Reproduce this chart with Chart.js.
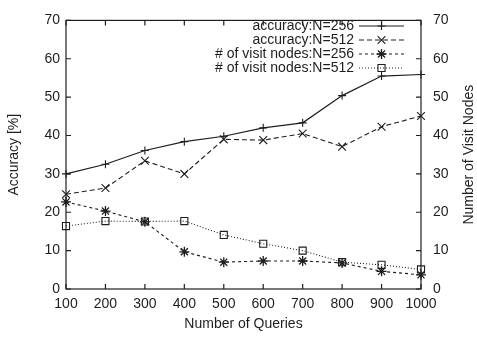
<!DOCTYPE html>
<html lang="en">
<head>
<meta charset="UTF-8">
<title>Accuracy and visit nodes</title>
<script src="https://cdn.jsdelivr.net/npm/chart.js"></script>
<style>
    html, body { margin: 0; padding: 0; background: #fff; }
    #wrap { width: 477px; height: 337px; }
</style>
</head>
<body>
<div id="wrap"><canvas id="chart" width="477" height="337"></canvas></div>
<script>
    // data
    const queries = ['100', '200', '300', '400', '500', '600', '700', '800', '900', '1000'];
    const accuracy256 = [30.0, 32.5, 36.1, 38.4, 39.8, 42.0, 43.3, 50.4, 55.5, 55.9];
    const accuracy512 = [24.7, 26.3, 33.4, 30.0, 39.0, 38.8, 40.5, 37.1, 42.3, 45.1];
    const visit256 = [22.7, 20.3, 17.5, 9.7, 7.0, 7.3, 7.3, 6.8, 4.6, 3.7];
    const visit512 = [16.4, 17.7, 17.6, 17.7, 14.1, 11.8, 10.0, 7.0, 6.3, 5.1];
    const yTicks = [0, 10, 20, 30, 40, 50, 60, 70];

    const ink = '#1e1e1e';
    const font = { family: 'Liberation Sans, Arial, sans-serif', size: 14 };

    // gnuplot style frame, inward ticks, key and right axis label (reads bottom to top)
    const gnuplotFrame = {
        id: 'gnuplotFrame',
        afterDraw(chart) {
            const ctx = chart.ctx;
            const a = chart.chartArea;
            const t = 5;
            ctx.save();
            ctx.strokeStyle = ink;
            ctx.lineWidth = 1.2;
            ctx.setLineDash([]);
            ctx.strokeRect(a.left, a.top, a.right - a.left, a.bottom - a.top);
            ctx.beginPath();
            const xs = chart.scales.x;
            xs.ticks.forEach((tk, i) => {
                const px = xs.getPixelForTick(i);
                ctx.moveTo(px, a.bottom); ctx.lineTo(px, a.bottom - t);
                ctx.moveTo(px, a.top); ctx.lineTo(px, a.top + t);
            });
            const ys = chart.scales.y, ys2 = chart.scales.y2;
            ys.ticks.forEach((tk, i) => {
                const py = ys.getPixelForTick(i);
                ctx.moveTo(a.left, py); ctx.lineTo(a.left + t, py);
            });
            ys2.ticks.forEach((tk, i) => {
                const py = ys2.getPixelForTick(i);
                ctx.moveTo(a.right, py); ctx.lineTo(a.right - t, py);
            });
            ctx.stroke();

            ctx.font = font.size + 'px ' + font.family;
            ctx.fillStyle = ink;
            ctx.textBaseline = 'middle';

            // right axis title
            ctx.save();
            ctx.translate(469, (a.top + a.bottom) / 2);
            ctx.rotate(-Math.PI / 2);
            ctx.textAlign = 'center';
            ctx.fillText('Number of Visit Nodes', 0, 0);
            ctx.restore();

            // key
            const textRight = 354, lineL = 359, lineR = 404;
            const rows = [26, 40, 54, 68];
            ctx.textAlign = 'right';
            chart.data.datasets.forEach((ds, i) => {
                const y = rows[i];
                ctx.fillStyle = ink;
                ctx.fillText(ds.label, textRight, y);
                ctx.beginPath();
                ctx.setLineDash(ds.borderDash || []);
                ctx.lineWidth = ds.borderWidth;
                ctx.strokeStyle = ink;
                ctx.moveTo(lineL, y); ctx.lineTo(lineR, y);
                ctx.stroke();
                ctx.setLineDash([]);
                ctx.fillStyle = 'rgba(0,0,0,0)';
                ctx.lineWidth = ds.pointBorderWidth;
                Chart.helpers.drawPoint(ctx, {
                    pointStyle: ds.pointStyle,
                    radius: ds.pointRadius,
                    borderWidth: ds.pointBorderWidth
                }, (lineL + lineR) / 2, y);
            });
            ctx.restore();
        }
    };

    const ctx = document.getElementById('chart').getContext('2d');
    new Chart(ctx, {
        type: 'line',
        data: {
            labels: queries,
            datasets: [
                {
                    label: 'accuracy:N=256',
                    data: accuracy256,
                    yAxisID: 'y',
                    borderColor: ink, borderWidth: 1.2,
                    pointStyle: 'cross', pointRadius: 4,
                    pointBorderColor: ink, pointBackgroundColor: 'transparent', pointBorderWidth: 1.1
                },
                {
                    label: 'accuracy:N=512',
                    data: accuracy512,
                    yAxisID: 'y',
                    borderColor: ink, borderWidth: 1.1, borderDash: [5, 3],
                    pointStyle: 'crossRot', pointRadius: 5.5,
                    pointBorderColor: ink, pointBackgroundColor: 'transparent', pointBorderWidth: 1.1
                },
                {
                    label: '# of visit nodes:N=256',
                    data: visit256,
                    yAxisID: 'y2',
                    borderColor: ink, borderWidth: 1.1, borderDash: [3, 3],
                    pointStyle: 'star', pointRadius: 5,
                    pointBorderColor: ink, pointBackgroundColor: 'transparent', pointBorderWidth: 1.3
                },
                {
                    label: '# of visit nodes:N=512',
                    data: visit512,
                    yAxisID: 'y2',
                    borderColor: ink, borderWidth: 1.1, borderDash: [1, 2],
                    pointStyle: 'rect', pointRadius: 5,
                    pointBorderColor: ink, pointBackgroundColor: 'transparent', pointBorderWidth: 1.1
                }
            ]
        },
        options: {
            responsive: false,
            animation: false,
            layout: { padding: { top: 12, left: 0, right: 0, bottom: 0 } },
            plugins: {
                legend: { display: false },
                tooltip: { enabled: false }
            },
            elements: { line: { tension: 0 } },
            scales: {
                x: {
                    type: 'category',
                    offset: false,
                    grid: { display: false, drawTicks: false },
                    border: { display: false },
                    ticks: { color: ink, font: font, padding: 7, maxRotation: 0, autoSkip: false },
                    title: { display: true, text: 'Number of Queries', color: ink, font: font, padding: { top: 0, bottom: 4 } },
                    afterFit(s) { s.height = 48; }
                },
                y: {
                    position: 'left',
                    min: 0, max: 70,
                    afterBuildTicks(s) { s.ticks = yTicks.map(v => ({ value: v })); },
                    grid: { display: false, drawTicks: false },
                    border: { display: false },
                    ticks: { color: ink, font: font, padding: 6 },
                    title: { display: true, text: 'Accuracy [%]', color: ink, font: font, padding: { top: 6, bottom: 0 } },
                    afterFit(s) { s.width = 66; }
                },
                y2: {
                    position: 'right',
                    min: 0, max: 70,
                    afterBuildTicks(s) { s.ticks = yTicks.map(v => ({ value: v })); },
                    grid: { display: false, drawTicks: false },
                    border: { display: false },
                    ticks: { color: ink, font: font, padding: 12 },
                    title: { display: false },
                    afterFit(s) { s.width = 56; }
                }
            }
        },
        plugins: [gnuplotFrame]
    });
</script>
</body>
</html>
